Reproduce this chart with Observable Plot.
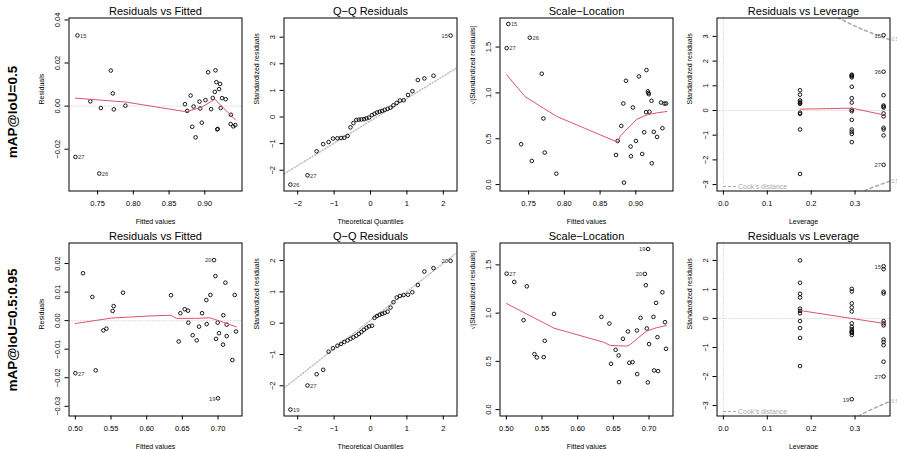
<!DOCTYPE html>
<html><head><meta charset="utf-8">
<script src="https://cdn.jsdelivr.net/npm/d3@7"></script>
<script src="https://cdn.jsdelivr.net/npm/@observablehq/plot@0.6"></script>
<style>
html,body{margin:0;padding:0;background:#fff;}
#root{position:relative;width:897px;height:449px;overflow:hidden;}
</style></head><body><div id="root"></div>
<script>
// ---------------- DATA ----------------
const rowLabels = ["mAP@IoU=0.5", "mAP@IoU=0.5:0.95"];
const titles = ["Residuals vs Fitted", "Q\u2212Q Residuals", "Scale\u2212Location", "Residuals vs Leverage"];

// Row 1: Residuals vs Fitted
const fit1 = [0.7218,0.7398,0.7546,0.7685,0.7713,0.7727,0.7889,0.7190,0.7523,
  0.9046,0.9149,0.9162,0.9213,0.9199,0.9139,0.8801,0.9241,0.9292,0.9111,0.9009,0.8926,0.8722,0.8843,0.8935,0.8754,0.9088,0.9222,0.9365,0.8824,0.8958,0.9174,0.9180,0.9361,0.9398,0.9426,0.8871];
const res1 = [0.0328,0.0022,-0.0009,0.0165,0.0059,-0.0015,0.0002,-0.0236,-0.0313,
  0.0157,0.0166,0.0111,0.0103,0.0079,0.0066,0.0049,0.0037,0.0032,0.0038,0.0028,0.0021,0.0009,-0.0002,-0.0011,-0.0022,-0.0014,-0.0009,-0.0040,-0.0096,-0.0077,-0.0108,-0.0106,-0.0083,-0.0094,-0.0088,-0.0145];
const fit1Ids = [["15",0],["27",7],["26",8]];
const smooth1X = [0.719,0.789,0.8736,0.8958,0.9139,0.9431];
const smooth1Y = [0.0037,0.0019,-0.0026,-0.0005,0.0032,-0.0065];

// Q-Q theoretical quantiles (n = 36), same for both rows
const qqTheo = [-2.20,-1.73,-1.48,-1.30,-1.15,-1.03,-0.91,-0.81,-0.72,-0.63,-0.55,-0.47,-0.39,-0.32,-0.25,-0.18,-0.11,-0.04,
  0.04,0.11,0.18,0.25,0.32,0.39,0.47,0.55,0.63,0.72,0.81,0.91,1.03,1.15,1.30,1.48,1.73,2.20];
const qq1Y = [-2.54,-2.19,-1.29,-1.02,-0.94,-0.81,-0.80,-0.79,-0.78,-0.71,-0.39,-0.23,-0.11,-0.10,-0.09,-0.08,-0.05,-0.02,
  0.07,0.12,0.17,0.20,0.23,0.27,0.31,0.35,0.44,0.53,0.62,0.63,0.83,0.97,1.39,1.45,1.55,3.06];
const qq1Ids = [["26",0],["27",1],["15",35]];
const qqLine1X = [-2.376, 2.376];
const qqLine1Y = [-2.14, 1.85];

// Row 1: Scale-Location
const sl1X = [0.7216,0.7517,0.7193,0.7684,0.7707,0.7396,0.7545,0.7726,0.7888,
  0.8862,0.9043,0.9149,0.9168,0.9182,0.9176,0.9219,0.8825,0.8959,0.9353,0.9400,0.9423,0.9144,0.9191,0.8797,0.8746,0.9117,0.9251,0.9372,0.9297,0.9001,0.8927,0.9089,0.8723,0.8932,0.9223,0.8834];
const sl1Y = [1.752,1.602,1.489,1.209,0.721,0.440,0.258,0.349,0.119,
  1.132,1.180,1.249,1.016,0.986,1.000,0.914,0.884,0.841,0.895,0.884,0.884,0.790,0.794,0.640,0.476,0.571,0.575,0.615,0.520,0.476,0.415,0.334,0.323,0.309,0.232,0.021];
const sl1Ids = [["15",0],["26",1],["27",2]];
const slSmooth1X = [0.7193,0.745,0.7888,0.8746,0.8783,0.8922,0.9015,0.9154,0.9293,0.9432];
const slSmooth1Y = [1.198,0.96,0.745,0.462,0.531,0.640,0.713,0.760,0.782,0.797];

// Leverage (three distinct hat values)
const hatLevels = [0.1746, 0.2925, 0.365];
const lev1Res = [
  [0.82,0.64,0.41,0.35,0.30,0.27,-0.09,-0.14,-0.77,-2.57],
  [1.45,1.42,1.39,1.34,0.96,0.50,0.32,0.03,-0.03,-0.38,-0.77,-0.86,-0.95,-1.28],
  [3.05,1.57,0.62,0.20,0.16,0.12,-0.12,-0.24,-0.70,-0.77,-1.01,-2.20]];
const lev1Ids = [["15",2,0],["36",2,1],["27",2,11]];
const levSmooth1Y = [0.054,0.095,-0.176];

// Cook's distance 0.5 contour (|std. residual| vs leverage)
const cookH = [0.26,0.28,0.30,0.32,0.34,0.36,0.38];
const cookR = [3.772,3.586,3.416,3.260,3.115,2.981,2.856];
const cookLabel1 = [2.86,-2.86];
const cookLabel2 = [-2.86];

// Row 2: Residuals vs Fitted
const fit2 = [0.5000,0.5107,0.5238,0.5285,0.5393,0.5435,0.5523,0.5537,0.5668,
  0.6341,0.6472,0.6449,0.6533,0.6579,0.6584,0.6645,0.6701,0.6734,0.6776,0.6836,0.6841,0.6893,0.6944,0.6963,0.6972,0.6995,0.7014,0.7070,0.7075,0.7103,0.7121,0.7121,0.7000,0.7234,0.7252,0.7201];
const res2 = [-0.0184,0.0166,0.0083,-0.0174,-0.0034,-0.0028,0.0034,0.0051,0.0098,
  0.0089,0.0026,-0.0073,0.0040,0.0035,-0.0007,-0.0051,-0.0069,-0.0021,0.0026,0.0072,-0.0012,0.0090,0.0212,0.0156,-0.0064,-0.0007,-0.0044,-0.0084,0.0019,0.0133,-0.0014,-0.0054,-0.0272,0.0090,-0.0038,-0.0138];
const fit2Ids = [["27",0],["20",22],["19",32]];
const smooth2X = [0.500,0.5505,0.6005,0.634,0.6416,0.6696,0.6883,0.7023,0.7257];
const smooth2Y = [-0.0010,0.0009,0.0016,0.0019,0.0008,0.0008,0.0010,-0.0001,-0.0022];

// Row 2: Q-Q
const qq2Y = [-2.76,-1.99,-1.63,-1.49,-0.91,-0.80,-0.72,-0.66,-0.60,-0.55,-0.50,-0.45,-0.40,-0.34,-0.28,-0.21,-0.15,-0.10,-0.08,
  0.17,0.23,0.27,0.30,0.33,0.37,0.50,0.67,0.82,0.87,0.90,0.91,0.99,1.22,1.65,1.76,1.99];
const qq2Ids = [["19",0],["27",1],["20",35]];
const qqLine2X = [-2.376, 2.376];
const qqLine2Y = [-2.07, 2.26];

// Row 2: Scale-Location
const sl2X = [0.5004,0.5111,0.5287,0.5241,0.5394,0.5427,0.5524,0.5538,0.5668,
  0.6333,0.6444,0.6467,0.6532,0.6574,0.6579,0.6634,0.6704,0.6723,0.6769,0.6830,0.6834,0.6881,
  0.6987,0.6941,0.6955,0.6969,0.6983,0.7001,0.7062,0.7071,0.7099,0.7118,0.7127,0.7187,0.7224,0.7238];
const sl2Y = [1.409,1.323,1.278,0.927,0.575,0.541,0.544,0.713,0.992,
  0.961,0.892,0.475,0.620,0.561,0.285,0.734,0.810,0.485,0.492,0.820,0.368,0.951,
  1.665,1.406,1.289,0.841,0.282,0.679,0.961,0.406,1.106,0.751,0.399,1.216,0.906,0.630];
const sl2Ids = [["27",0],["19",22],["20",23]];
const slSmooth2X = [0.5004,0.5668,0.636,0.6457,0.669,0.6738,0.686,0.6964,0.7103,0.7242];
const slSmooth2Y = [1.099,0.844,0.699,0.665,0.658,0.675,0.751,0.813,0.848,0.872];

// Row 2: Leverage
const lev2Res = [
  [2.00,1.23,0.85,0.72,0.34,0.26,0.18,-0.09,-0.33,-0.67,-1.64],
  [1.02,0.93,0.52,0.38,0.24,-0.17,-0.29,-0.37,-0.44,-0.47,-0.50,-0.57,-2.78],
  [1.80,1.70,0.92,0.86,-0.09,-0.17,-0.24,-0.72,-0.81,-0.92,-1.49,-2.00]];
const lev2Ids = [["15",2,0],["19",1,12],["27",2,11]];
const levSmooth2Y = [0.275,0.0,-0.17];

// Axis ticks
const fitTicks1 = [0.75,0.80,0.85,0.90];
const resTicks1 = [-0.02,0.00,0.02,0.04];
const fitTicks2 = [0.50,0.55,0.60,0.65,0.70];
const resTicks2 = [-0.03,-0.02,-0.01,0.00,0.01,0.02];
const qqXTicks = [-2,-1,0,1,2];
const qqYTicks1 = [-2,-1,0,1,2,3];
const qqYTicks2 = [-2,-1,0,1,2];
const slYTicks = [0.0,0.5,1.0,1.5];
const levXTicks = [0.0,0.1,0.2,0.3];
const levYTicks1 = [-3,-2,-1,0,1,2,3];
const levYTicks2 = [-3,-2,-1,0,1,2];

// ---------------- LAYOUT / DRAWING ----------------
const FONT = '"Liberation Sans", Arial, Helvetica, sans-serif';
const RED = "#DF536B", GRAY = "#BEBEBE", LGRAY = "#A8A8A8";
const root = document.getElementById("root");
const colLeft = [68, 283, 499, 716];
const rowTop = [17, 242];
const FW = 173, FH = 173;
const rowLabelY = [112, 330];

const zipPts = (X, Y) => X.map((x, i) => ({x, y: Y[i]}));
const f2 = d3.format(".2f"), f1 = d3.format(".1f"), fd = d3.format("d");

function idLabels(pts, ids, xd) {
  const mid = (xd[0] + xd[1]) / 2;
  const rows = ids.map(([id, i]) => ({...pts[i], id}));
  return [
    Plot.text(rows.filter(r => r.x <= mid), {x: "x", y: "y", text: "id", textAnchor: "start", dx: 2.6, dy: 0.5, fontSize: 5.8, fill: "#333"}),
    Plot.text(rows.filter(r => r.x > mid), {x: "x", y: "y", text: "id", textAnchor: "end", dx: -2.6, dy: 0.5, fontSize: 5.8, fill: "#333"})
  ];
}
const dots = (pts) => Plot.dot(pts, {x: "x", y: "y", r: 1.8, stroke: "#000", strokeWidth: 0.9, fill: "none"});
const smooth = (pts) => Plot.line(pts, {x: "x", y: "y", stroke: RED, strokeWidth: 1, clip: true});

function addPlot(col, row, cfg) {
  const marks = [
    ...cfg.marks,
    Plot.frame({stroke: "#000", strokeWidth: 1}),
    Plot.axisX(cfg.xTicks, {tickSize: 4, tickPadding: 5.5, tickFormat: cfg.xFmt, fontSize: 7.5, label: null}),
    Plot.axisY(cfg.yTicks, {tickSize: 4, tickPadding: 5, tickRotate: -90, tickFormat: cfg.yFmt, fontSize: 7.5, label: null}),
    Plot.text([titles[col]], {text: d => d, frameAnchor: "top", dy: -3.5, lineAnchor: "bottom", fontSize: 11}),
    Plot.text([cfg.xLabel], {text: d => d, frameAnchor: "bottom", dy: 32.5, lineAnchor: "bottom", fontSize: 7}),
    Plot.text([cfg.yLabel], {text: d => d, frameAnchor: "left", dx: -25, rotate: -90, lineAnchor: "bottom", fontSize: 7})
  ];
  const svg = Plot.plot({
    width: 238, height: 225,
    marginLeft: 50.5, marginRight: 14.5, marginTop: 17.5, marginBottom: 34.5,
    style: `background: transparent; overflow: visible; font-family: ${FONT}; color: #000; max-width: none;`,
    x: {type: "linear", domain: cfg.xDomain, label: null},
    y: {type: "linear", domain: cfg.yDomain, label: null},
    marks
  });
  svg.style.position = "absolute";
  svg.style.left = (colLeft[col] - 50) + "px";
  svg.style.top = (rowTop[row] - 17) + "px";
  root.appendChild(svg);
}

function fittedPanel(row, X, Y, ids, sX, sY, xd, yd, xt, yt) {
  const pts = zipPts(X, Y);
  addPlot(0, row, {xDomain: xd, yDomain: yd, xTicks: xt, yTicks: yt, xFmt: f2, yFmt: f2,
    xLabel: "Fitted values", yLabel: "Residuals",
    marks: [Plot.ruleY([0], {stroke: GRAY, strokeDasharray: "1,2"}), dots(pts), smooth(zipPts(sX, sY)), ...idLabels(pts, ids, xd)]});
}
function qqPanel(row, Y, ids, lx, ly, yd, yt) {
  const pts = zipPts(qqTheo, Y);
  const xd = [-2.376, 2.376];
  addPlot(1, row, {xDomain: xd, yDomain: yd, xTicks: qqXTicks, yTicks: yt, xFmt: fd, yFmt: fd,
    xLabel: "Theoretical Quantiles", yLabel: "Standardized residuals",
    marks: [Plot.line(zipPts(lx, ly), {x: "x", y: "y", stroke: GRAY, strokeDasharray: "1,2", clip: true}), dots(pts), ...idLabels(pts, ids, xd)]});
}
function slPanel(row, X, Y, ids, sX, sY, xd, yd) {
  const pts = zipPts(X, Y);
  addPlot(2, row, {xDomain: xd, yDomain: yd, xTicks: row === 0 ? fitTicks1 : fitTicks2, yTicks: slYTicks, xFmt: f2, yFmt: f1,
    xLabel: "Fitted values", yLabel: "\u221A|Standardized residuals|",
    marks: [dots(pts), smooth(zipPts(sX, sY)), ...idLabels(pts, ids, xd)]});
}
function levPanel(row, groups, ids, sY, yd, yt, cookLabels) {
  const xd = [-0.0146, 0.3796];
  const pts = groups.flatMap((g, k) => g.map(y => ({x: hatLevels[k], y})));
  const labelRows = ids.map(([id, k, j]) => ({x: hatLevels[k], y: groups[k][j], id}));
  const upper = cookH.map((h, i) => ({x: h, y: cookR[i]}));
  const lower = cookH.map((h, i) => ({x: h, y: -cookR[i]}));
  const sx = (px) => xd[0] + px / FW * (xd[1] - xd[0]);
  const sy = (px) => yd[0] + px / FH * (yd[1] - yd[0]);
  addPlot(3, row, {xDomain: xd, yDomain: yd, xTicks: levXTicks, yTicks: yt, xFmt: f1, yFmt: fd,
    xLabel: "Leverage", yLabel: "Standardized residuals",
    marks: [
      Plot.ruleY([0], {stroke: GRAY, strokeDasharray: "1,2"}),
      Plot.ruleX([0], {stroke: GRAY, strokeDasharray: "1,2"}),
      Plot.line(upper, {x: "x", y: "y", stroke: LGRAY, strokeDasharray: "3,3", clip: true}),
      Plot.line(lower, {x: "x", y: "y", stroke: LGRAY, strokeDasharray: "3,3", clip: true}),
      Plot.link([{x1: sx(6), x2: sx(19.5), y: sy(4.5)}], {x1: "x1", x2: "x2", y1: "y", y2: "y", stroke: LGRAY, strokeDasharray: "3,2"}),
      Plot.text(["Cook's distance"], {text: d => d, frameAnchor: "bottom-left", dx: 21, dy: -4.5, textAnchor: "start", lineAnchor: "middle", fontSize: 7, fill: LGRAY}),
      Plot.text(cookLabels.map(y => ({y})), {y: "y", text: () => "0.5", frameAnchor: "right", dx: 1.5, textAnchor: "start", fontSize: 4.8, fill: LGRAY}),
      dots(pts),
      smooth(hatLevels.map((h, i) => ({x: h, y: sY[i]}))),
      Plot.text(labelRows, {x: "x", y: "y", text: "id", textAnchor: "end", dx: -2.6, dy: 0.5, fontSize: 5.8, fill: "#333"})
    ]});
}

fittedPanel(0, fit1, res1, fit1Ids, smooth1X, smooth1Y, [0.710, 0.952], [-0.0394, 0.0409], fitTicks1, resTicks1);
qqPanel(0, qq1Y, qq1Ids, qqLine1X, qqLine1Y, [-2.78, 3.72], qqYTicks1);
slPanel(0, sl1X, sl1Y, sl1Ids, slSmooth1X, slSmooth1Y, [0.710, 0.952], [-0.07, 1.817]);
levPanel(0, lev1Res, lev1Ids, levSmooth1Y, [-3.26, 3.745], levYTicks1, cookLabel1);

fittedPanel(1, fit2, res2, fit2Ids, smooth2X, smooth2Y, [0.4911, 0.7336], [-0.0334, 0.0272], fitTicks2, resTicks2);
qqPanel(1, qq2Y, qq2Ids, qqLine2X, qqLine2Y, [-2.965, 2.562], qqYTicks2);
slPanel(1, sl2X, sl2Y, sl2Ids, slSmooth2X, slSmooth2Y, [0.4911, 0.7336], [-0.0664, 1.727]);
levPanel(1, lev2Res, lev2Ids, levSmooth2Y, [-3.36, 2.60], levYTicks2, cookLabel2);

// Row labels
const lab = d3.create("svg").attr("width", 40).attr("height", 449)
  .style("position", "absolute").style("left", "0px").style("top", "0px");
rowLabels.forEach((t, i) => {
  lab.append("text").attr("transform", `translate(17,${rowLabelY[i]}) rotate(-90)`)
    .attr("text-anchor", "middle").attr("font-weight", "bold").attr("font-size", 13.5)
    .attr("font-family", FONT).attr("fill", "#000").text(t);
});
root.appendChild(lab.node());
</script>
</body></html>
